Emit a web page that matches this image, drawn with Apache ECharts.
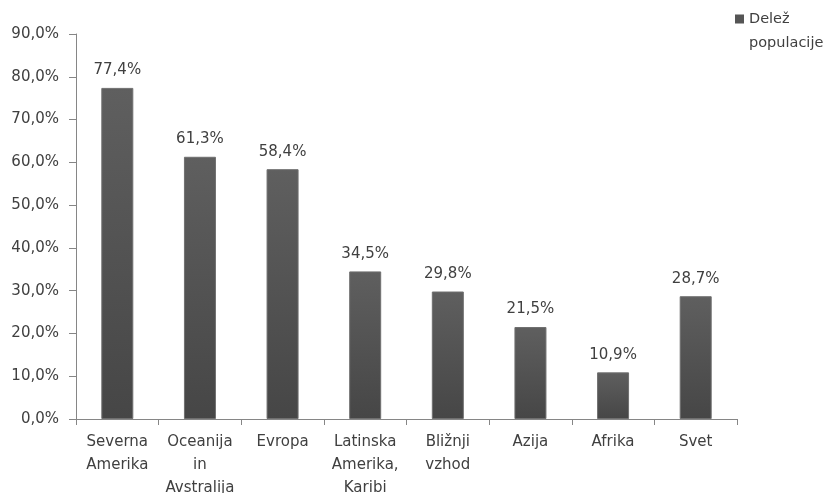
<!DOCTYPE html>
<html>
<head>
<meta charset="utf-8">
<script src="https://cdn.jsdelivr.net/npm/echarts@6/dist/echarts.min.js"></script>
<style>
  html, body { margin: 0; padding: 0; background: #ffffff; }
  #chart { width: 824px; height: 493px; }
</style>
</head>
<body>
<div id="chart"></div>
<script>
// Regions and the share of population in each (percent)
const categories = [
  'Severna\nAmerika',
  'Oceanija\nin\nAvstralija',
  'Evropa',
  'Latinska\nAmerika,\nKaribi',
  'Bližnji\nvzhod',
  'Azija',
  'Afrika',
  'Svet'
];
const shareValues = [77.4, 61.3, 58.4, 34.5, 29.8, 21.5, 10.9, 28.7];
const seriesName = 'Delež populacije';
const yTicks = { min: 0, max: 90, interval: 10 };

const fmtPct = v => v.toFixed(1).replace('.', ',') + '%';
const textColor = '#404040';
const font = 'DejaVu Sans';

// Legend marker: a small square level with the first text line,
// inside a tall box so the two-line label hangs below it.
const legendIcon = 'path://M0,0L0.01,0M0,7.5L9,7.5L9,16.5L0,16.5ZM0,48L0.01,48';

const chart = echarts.init(document.getElementById('chart'), null, { renderer: 'canvas' });
chart.setOption({
  animation: false,
  backgroundColor: '#ffffff',
  textStyle: { fontFamily: font },
  grid: {
    left: 76, right: 87, top: 34, bottom: 74,
    containLabel: false, outerBoundsMode: 'none'
  },
  legend: {
    show: true,
    left: 735,
    top: 7,
    padding: 0,
    orient: 'vertical',
    itemWidth: 9,
    itemHeight: 48,
    icon: legendIcon,
    itemStyle: { color: '#555555', borderWidth: 0 },
    formatter: () => 'Delež\npopulacije',
    textStyle: {
      fontFamily: font, fontSize: 14.5, color: textColor, lineHeight: 24
    },
    data: [seriesName]
  },
  xAxis: {
    type: 'category',
    data: categories,
    axisLine: { lineStyle: { color: '#868686', width: 1 } },
    axisTick: { show: true, length: 6, lineStyle: { color: '#868686' } },
    axisLabel: {
      interval: 0, margin: 12, fontFamily: font, fontSize: 15,
      color: textColor, lineHeight: 23
    }
  },
  yAxis: {
    type: 'value',
    min: yTicks.min, max: yTicks.max, interval: yTicks.interval,
    axisLine: { show: true, lineStyle: { color: '#868686', width: 1 } },
    axisTick: { show: true, length: 7, lineStyle: { color: '#868686' } },
    splitLine: { show: false },
    axisLabel: {
      margin: 17, fontFamily: font, fontSize: 15, color: textColor,
      formatter: v => fmtPct(v)
    }
  },
  series: [{
    name: seriesName,
    type: 'bar',
    data: shareValues,
    barWidth: 32,
    itemStyle: {
      color: new echarts.graphic.LinearGradient(0, 0, 0, 1, [
        { offset: 0, color: '#5f5f5f' },
        { offset: 1, color: '#464646' }
      ]),
      borderColor: '#6f6f6f',
      borderWidth: 1
    },
    label: {
      show: true,
      position: 'top',
      distance: 10,
      fontFamily: font,
      fontSize: 15,
      color: textColor,
      formatter: p => fmtPct(p.value)
    }
  }]
});
</script>
</body>
</html>
